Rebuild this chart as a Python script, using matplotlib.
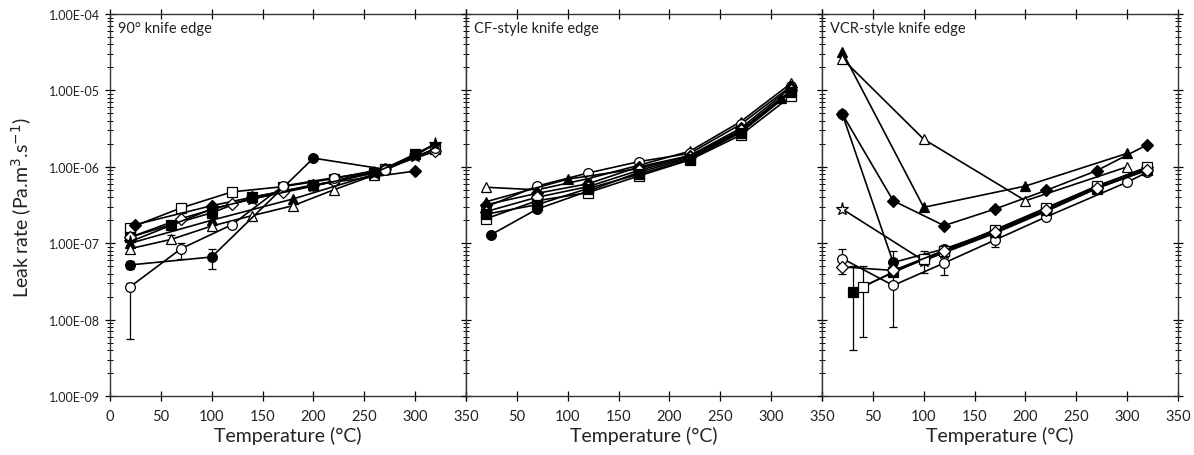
import numpy as np
import matplotlib
matplotlib.use("Agg")
import matplotlib.pyplot as plt
from matplotlib.ticker import FuncFormatter, LogLocator, NullFormatter, FixedLocator

plt.rcParams['font.family'] = ['Lato', 'DejaVu Sans']

# ---- panel titles / axis text ----
titles = ["90° knife edge", "CF-style knife edge", "VCR-style knife edge"]
xticks = [0, 50, 100, 150, 200, 250, 300, 350]
yticks = [1e-9, 1e-8, 1e-7, 1e-6, 1e-5, 1e-4]

T7 = [20, 70, 120, 170, 220, 270, 320]

# ---- 90° knife edge ----
p1_osq_t = [20, 70, 120, 170, 220, 270, 320]
p1_osq_v = [1.6e-7, 2.9e-7, 4.7e-7, 5.5e-7, 7.0e-7, 9.5e-7, 1.7e-6]
p1_fdi_t = [25, 100, 140, 200, 300]
p1_fdi_v = [1.75e-7, 3.1e-7, 4.0e-7, 5.8e-7, 8.8e-7]
p1_fsq_t = [20, 60, 100, 140, 200, 260, 300]
p1_fsq_v = [1.2e-7, 1.75e-7, 2.5e-7, 4.0e-7, 5.7e-7, 8.3e-7, 1.45e-6]
p1_odi_t = [20, 70, 120, 170, 220, 270, 320]
p1_odi_v = [1.2e-7, 2.1e-7, 3.3e-7, 4.7e-7, 6.5e-7, 9.5e-7, 1.6e-6]
p1_ftr_t = [20, 100, 180, 260, 320]
p1_ftr_v = [1.0e-7, 2.0e-7, 3.8e-7, 8.0e-7, 2.0e-6]
p1_otr_t = [20, 60, 100, 140, 180, 220, 260]
p1_otr_v = [8.5e-8, 1.12e-7, 1.68e-7, 2.3e-7, 3.1e-7, 5.0e-7, 7.8e-7]
p1_fci_t = [20, 100, 200, 270]
p1_fci_v = [5.2e-8, 6.6e-8, 1.3e-6, 9.3e-7]
p1_oci_t = [20, 70, 120, 170, 220, 270, 320]
p1_oci_v = [2.7e-8, 8.5e-8, 1.75e-7, 5.6e-7, 7.2e-7, 9.0e-7, 1.75e-6]
p1_fst_t = [20, 100, 140, 200, 260, 300, 320]
p1_fst_v = [1.05e-7, 2.8e-7, 3.8e-7, 5.6e-7, 8.4e-7, 1.4e-6, 2.0e-6]

e1_t = [20, 70, 100, 20, 60]
e1_v = [2.7e-8, 8.5e-8, 6.6e-8, 5.2e-8, 1.12e-7]
e1_lo = [5.6e-9, 6.2e-8, 4.6e-8, 4.6e-8, 1.0e-7]
e1_hi = [3.0e-8, 1.0e-7, 8.5e-8, 5.8e-8, 1.3e-7]

# ---- CF-style knife edge ----
p2_otr_v = [5.4e-7, 5.0e-7, 7.0e-7, 1.05e-6, 1.6e-6, 3.9e-6, 1.25e-5]
p2_oci_v = [3.0e-7, 5.6e-7, 8.3e-7, 1.17e-6, 1.5e-6, 3.6e-6, 1.15e-5]
p2_fci_t = [25, 70, 120, 170, 220, 270, 320]
p2_fci_v = [1.3e-7, 2.8e-7, 4.8e-7, 8.5e-7, 1.3e-6, 2.9e-6, 1.0e-5]
p2_osq_v = [2.1e-7, 3.6e-7, 4.6e-7, 7.6e-7, 1.23e-6, 2.6e-6, 8.5e-6]
p2_ftr_t = [20, 100, 170, 220, 270, 310]
p2_ftr_v = [3.5e-7, 6.9e-7, 9.5e-7, 1.4e-6, 3.0e-6, 8.0e-6]
p2_fdi_v = [3.2e-7, 4.5e-7, 6.0e-7, 1.0e-6, 1.4e-6, 3.2e-6, 1.1e-5]
p2_odi_v = [2.6e-7, 4.0e-7, 5.5e-7, 9.0e-7, 1.35e-6, 3.0e-6, 1.0e-5]
p2_fsq_v = [2.4e-7, 3.2e-7, 5.2e-7, 8.0e-7, 1.25e-6, 2.8e-6, 9.5e-6]

# ---- VCR-style knife edge ----
p3_ftr_t = [20, 100, 200, 300]
p3_ftr_v = [3.2e-5, 2.95e-7, 5.6e-7, 1.5e-6]
p3_otr_t = [20, 100, 200, 300]
p3_otr_v = [2.6e-5, 2.3e-6, 3.6e-7, 1.0e-6]
p3_fdi_t = [20, 70, 120, 170, 220, 270, 320]
p3_fdi_v = [4.9e-6, 3.6e-7, 1.7e-7, 2.8e-7, 4.9e-7, 8.9e-7, 1.95e-6]
p3_fci_t = [20, 70, 120, 170, 220, 270, 320]
p3_fci_v = [4.9e-6, 5.6e-8, 8.4e-8, 1.45e-7, 2.8e-7, 5.5e-7, 1.0e-6]
p3_ost_t = [20, 100, 120, 170, 220, 270, 320]
p3_ost_v = [2.8e-7, 5.9e-8, 7.5e-8, 1.35e-7, 2.6e-7, 5.2e-7, 9.5e-7]
p3_oci_t = [20, 70, 120, 170, 220, 300, 320]
p3_oci_v = [6.3e-8, 2.8e-8, 5.5e-8, 1.1e-7, 2.2e-7, 6.3e-7, 8.5e-7]
p3_fsq_t = [30, 70, 120, 170, 220, 270, 320]
p3_fsq_v = [2.3e-8, 4.2e-8, 7.8e-8, 1.4e-7, 2.7e-7, 5.2e-7, 9.2e-7]
p3_osq_t = [40, 100, 120, 170, 220, 270, 320]
p3_osq_v = [2.7e-8, 6.3e-8, 8.0e-8, 1.5e-7, 2.9e-7, 5.6e-7, 9.8e-7]
p3_odi_t = [20, 70, 120, 170, 220, 270, 320]
p3_odi_v = [4.9e-8, 4.4e-8, 8.0e-8, 1.42e-7, 2.75e-7, 5.3e-7, 9.0e-7]

e3_t = [30, 40, 70, 20, 120, 100, 70, 170]
e3_v = [2.3e-8, 2.7e-8, 2.8e-8, 6.3e-8, 5.5e-8, 5.9e-8, 5.6e-8, 1.1e-7]
e3_lo = [4.0e-9, 6.0e-9, 8.0e-9, 4.0e-8, 3.8e-8, 4.1e-8, 5.0e-8, 9.0e-8]
e3_hi = [5.0e-8, 5.0e-8, 4.0e-8, 8.5e-8, 7.0e-8, 8.0e-8, 8.0e-8, 1.3e-7]

# marker styles: (marker, filled)
FS, OS = ('s', True), ('s', False)
FD, OD = ('D', True), ('D', False)
FT, OT = ('^', True), ('^', False)
FC, OC = ('o', True), ('o', False)
FST, OST = ('*', True), ('*', False)

panels = [
    [(p1_osq_t, p1_osq_v, OS), (p1_fdi_t, p1_fdi_v, FD), (p1_fsq_t, p1_fsq_v, FS),
     (p1_odi_t, p1_odi_v, OD), (p1_ftr_t, p1_ftr_v, FT), (p1_otr_t, p1_otr_v, OT),
     (p1_fci_t, p1_fci_v, FC), (p1_oci_t, p1_oci_v, OC), (p1_fst_t, p1_fst_v, FST)],
    [(T7, p2_otr_v, OT), (T7, p2_oci_v, OC), (p2_fci_t, p2_fci_v, FC),
     (T7, p2_osq_v, OS), (p2_ftr_t, p2_ftr_v, FT), (T7, p2_fdi_v, FD),
     (T7, p2_odi_v, OD), (T7, p2_fsq_v, FS)],
    [(p3_ftr_t, p3_ftr_v, FT), (p3_otr_t, p3_otr_v, OT), (p3_fdi_t, p3_fdi_v, FD),
     (p3_fci_t, p3_fci_v, FC), (p3_ost_t, p3_ost_v, OST), (p3_oci_t, p3_oci_v, OC),
     (p3_fsq_t, p3_fsq_v, FS), (p3_osq_t, p3_osq_v, OS), (p3_odi_t, p3_odi_v, OD)],
]
errs = [(e1_t, e1_v, e1_lo, e1_hi), None, (e3_t, e3_v, e3_lo, e3_hi)]

fig = plt.figure(figsize=(11.94, 4.56), dpi=100)
axes = fig.subplots(1, 3, sharey=True)
fig.subplots_adjust(left=0.0921, right=0.9866, bottom=0.1294, top=0.967, wspace=0)

for i, ax in enumerate(axes):
    if errs[i] is not None:
        t, v, lo, hi = errs[i]
        v = np.array(v)
        yerr = [v - np.array(lo), np.array(hi) - v]
        ax.errorbar(t, v, yerr=yerr, fmt='none', ecolor='black', elinewidth=0.9,
                    capsize=3, capthick=0.9, zorder=2)
    for t, v, (m, filled) in panels[i]:
        ms = 9.5 if m == '*' else (6 if m == 'D' else 7)
        ax.plot(t, v, color='black', lw=1.2, marker=m, ms=ms,
                mfc='black' if filled else 'white', mec='black', mew=0.9, zorder=3)

    ax.set_yscale('log')
    ax.set_ylim(1e-9, 1e-4)
    ax.set_xlim(0, 350)
    ax.set_xticks(xticks)
    if i == 0:
        ax.set_xticklabels([str(x) for x in xticks])
    else:
        ax.set_xticklabels([''] + [str(x) for x in xticks[1:]])
    ax.yaxis.set_major_locator(FixedLocator(yticks))
    ax.yaxis.set_minor_locator(LogLocator(base=10, subs=np.arange(2, 10), numticks=20))
    ax.yaxis.set_minor_formatter(NullFormatter())
    ax.yaxis.set_major_formatter(FuncFormatter(lambda y, pos: f"{y:.2E}"))
    ax.tick_params(axis='both', which='major', direction='inout', length=7, width=0.9,
                   top=True, labelsize=10.5, colors='black', labelcolor='#222222')
    ax.tick_params(axis='y', which='minor', direction='inout', length=5, width=0.7)
    ax.tick_params(axis='y', which='both', left=True, right=(i == 2))
    ax.tick_params(axis='x', which='major', pad=6)
    ax.tick_params(axis='y', labelsize=9)
    for s in ax.spines.values():
        s.set_linewidth(1.0)
        s.set_color('#333333')
    ax.set_xlabel("Temperature (°C)", fontsize=14, color='#222222', labelpad=2)
    ax.text(0.023, 0.982, titles[i], transform=ax.transAxes, ha='left', va='top',
            fontsize=10.5, color='#222222')

fig.text(0.018, 0.545, "Leak rate (Pa.m$^3$.s$^{-1}$)", rotation=90, ha='center',
         va='center', fontsize=14, color='#222222')

fig.savefig("out.png", dpi=100)
